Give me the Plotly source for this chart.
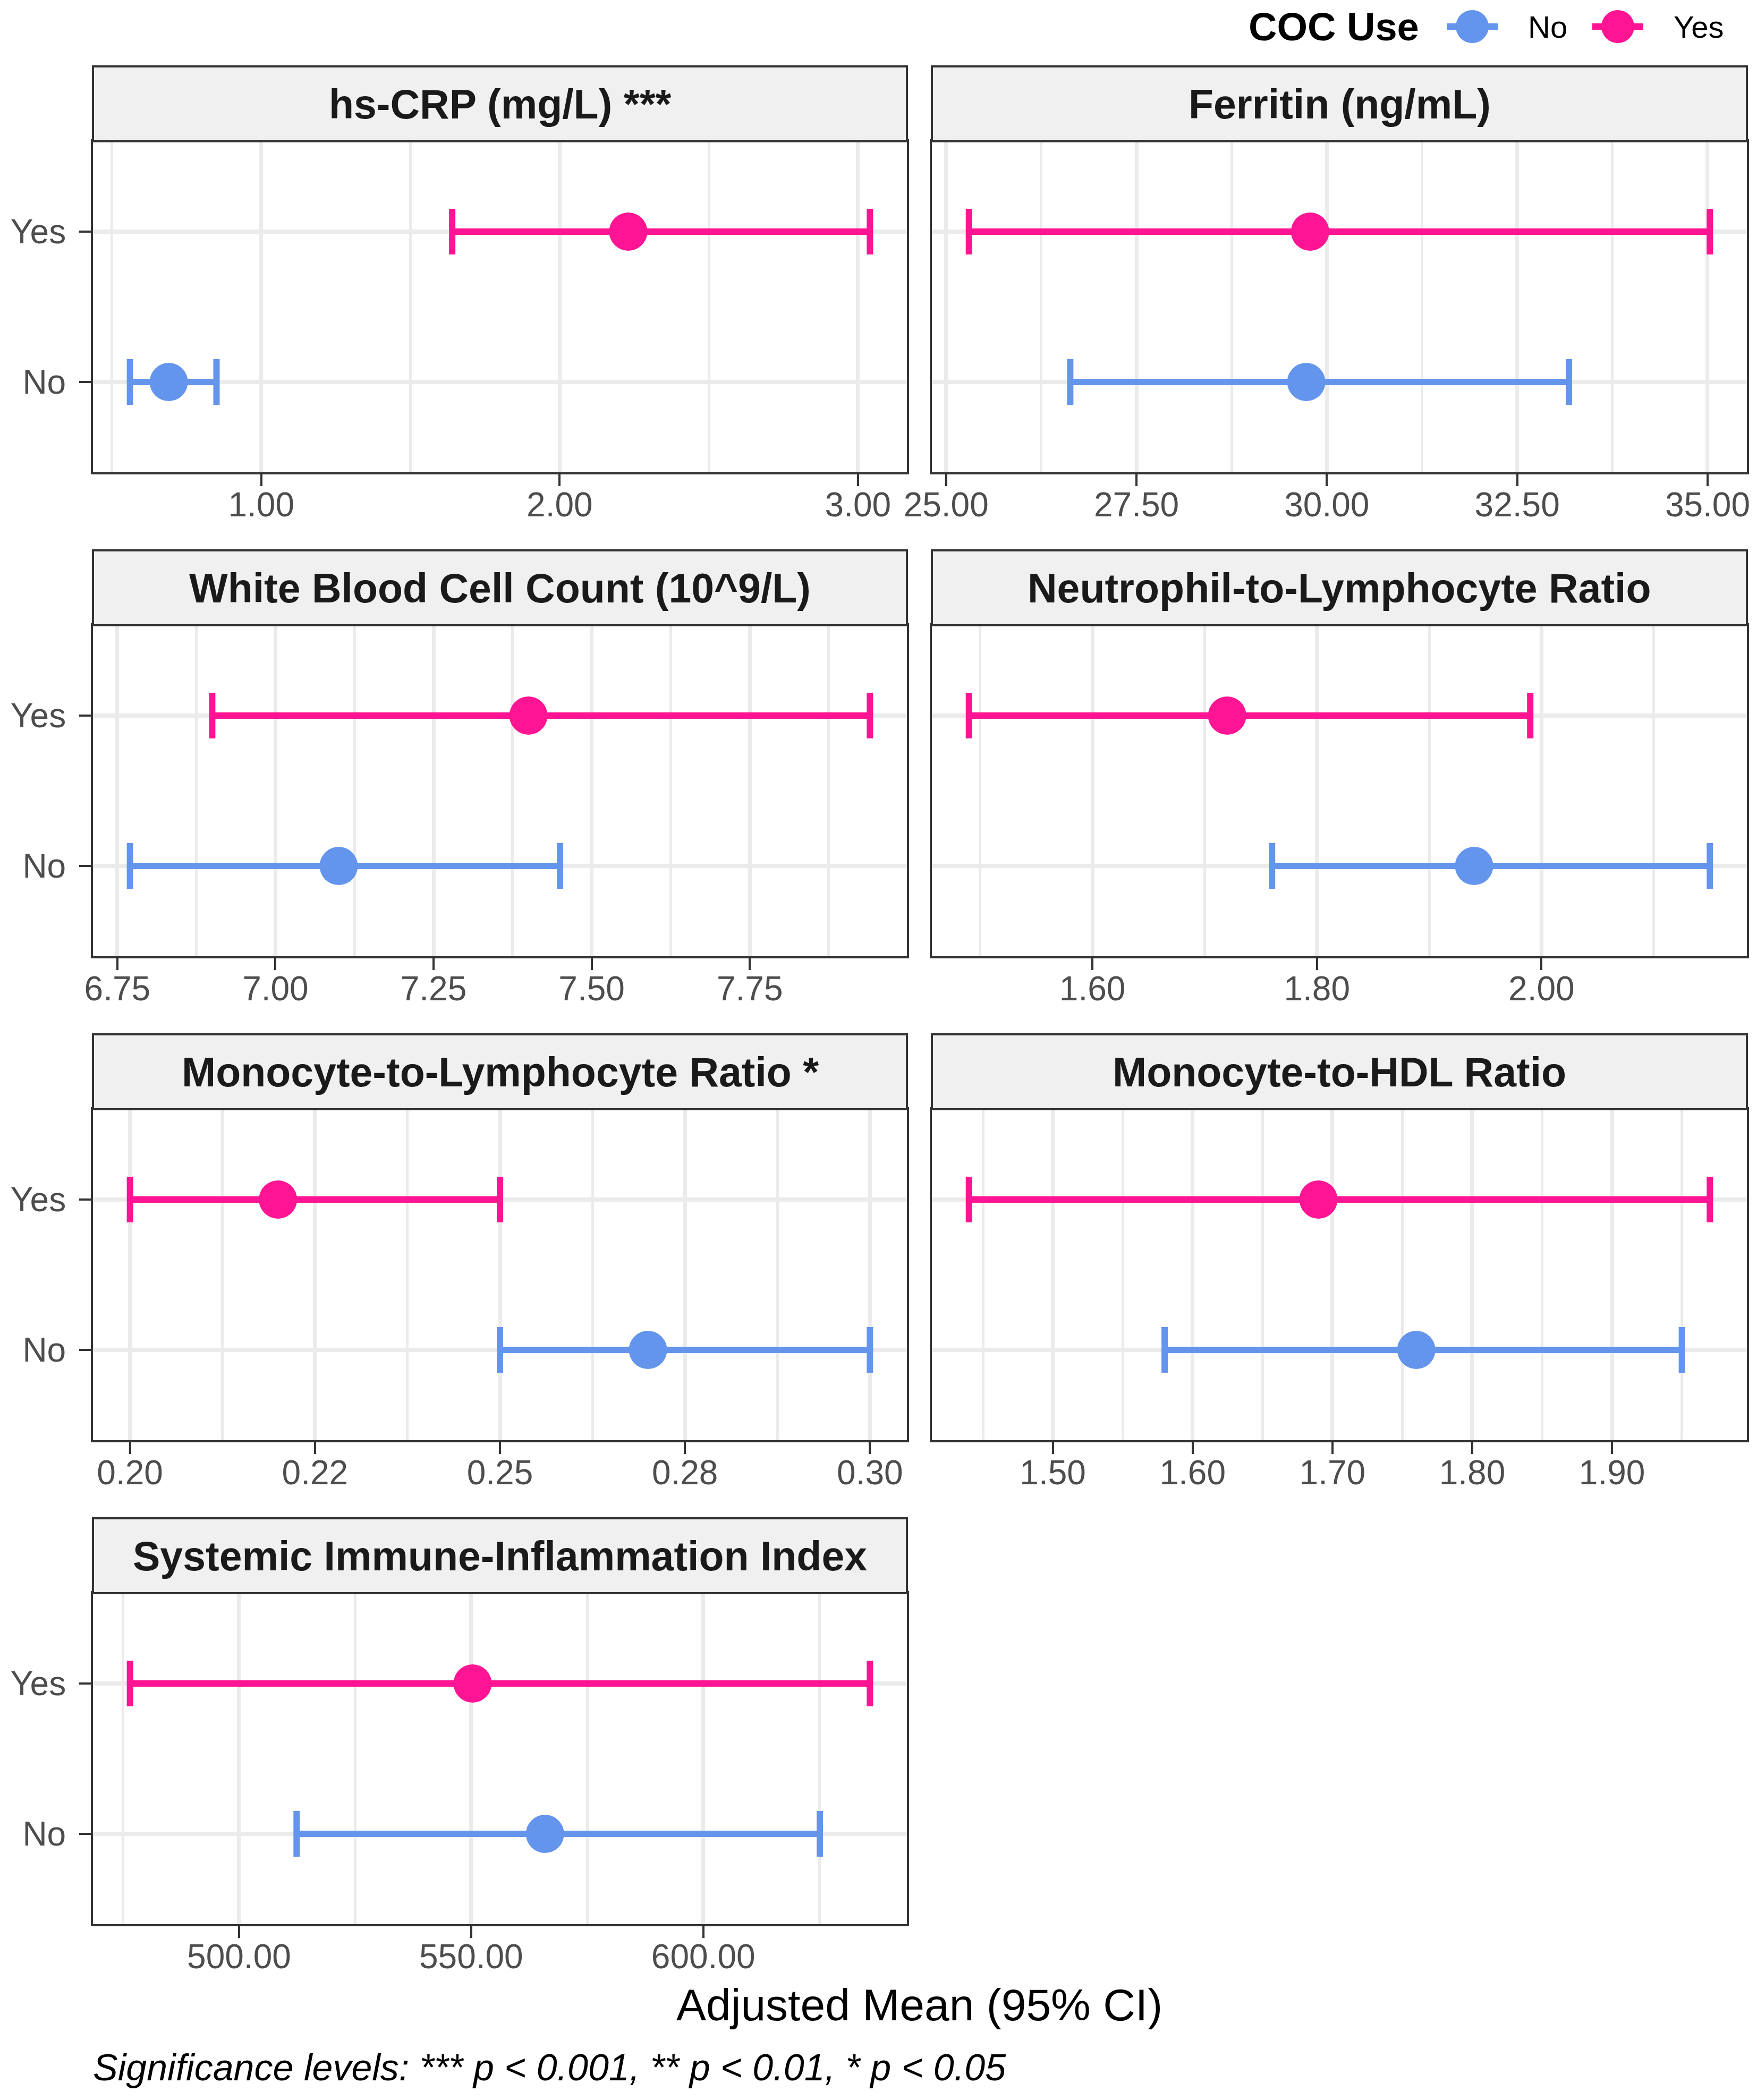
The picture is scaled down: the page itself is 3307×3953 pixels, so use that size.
import plotly.graph_objects as go
from plotly.subplots import make_subplots

# panel titles (facet strips), in reading order
markers = [
    "hs-CRP (mg/L) ***",
    "Ferritin (ng/mL)",
    "White Blood Cell Count (10^9/L)",
    "Neutrophil-to-Lymphocyte Ratio",
    "Monocyte-to-Lymphocyte Ratio *",
    "Monocyte-to-HDL Ratio",
    "Systemic Immune-Inflammation Index",
]

# adjusted means and 95% CI, COC use = No
no_mean = [0.69, 29.73, 7.10, 1.94, 0.270, 1.76, 565.9]
no_low = [0.56, 26.63, 6.77, 1.76, 0.250, 1.58, 512.4]
no_high = [0.85, 33.18, 7.45, 2.15, 0.300, 1.95, 625.1]

# adjusted means and 95% CI, COC use = Yes
yes_mean = [2.23, 29.78, 7.40, 1.72, 0.220, 1.69, 550.3]
yes_low = [1.64, 25.30, 6.90, 1.49, 0.200, 1.44, 476.5]
yes_high = [3.04, 35.03, 7.94, 1.99, 0.250, 1.97, 635.9]

# x axis breaks and their labels per panel
tick_vals = [
    [1.0, 2.0, 3.0],
    [25.0, 27.5, 30.0, 32.5, 35.0],
    [6.75, 7.0, 7.25, 7.5, 7.75],
    [1.6, 1.8, 2.0],
    [0.2, 0.225, 0.25, 0.275, 0.3],
    [1.5, 1.6, 1.7, 1.8, 1.9],
    [500.0, 550.0, 600.0],
]
tick_text = [
    ["1.00", "2.00", "3.00"],
    ["25.00", "27.50", "30.00", "32.50", "35.00"],
    ["6.75", "7.00", "7.25", "7.50", "7.75"],
    ["1.60", "1.80", "2.00"],
    ["0.20", "0.22", "0.25", "0.28", "0.30"],
    ["1.50", "1.60", "1.70", "1.80", "1.90"],
    ["500.00", "550.00", "600.00"],
]

groups = ["No", "Yes"]
group_colors = {"No": "#6495ED", "Yes": "#FF1493"}

# page geometry (pixels)
W, H = 3307, 3953
col_x = [(167, 1699), (1746, 3280)]
strip_top = [117, 1028, 1939, 2850]
strip_h = 141
panel_h = 623

FONT = "Liberation Sans, Arial, Helvetica, sans-serif"


def px_x(x):
    return x / W


def px_y(y):
    return 1 - y / H


fig = make_subplots(
    rows=4, cols=2,
    specs=[[{}, {}], [{}, {}], [{}, {}], [{}, None]],
)

shapes = []
annotations = []

for i, title in enumerate(markers):
    row, col = i // 2 + 1, i % 2 + 1
    x0, x1 = col_x[col - 1]
    st = strip_top[row - 1]
    p_top = st + strip_h
    p_bot = p_top + panel_h

    # data range with 5% expansion like ggplot
    lo = min(no_low[i], yes_low[i])
    hi = max(no_high[i], yes_high[i])
    pad = (hi - lo) * 0.05

    # minor breaks halfway between the major ones
    tv = tick_vals[i]
    step = tv[1] - tv[0]
    minor = [tv[0] - step / 2] + [t + step / 2 for t in tv]
    minor = [m for m in minor if lo - pad <= m <= hi + pad]

    for g, mean, low, high in [("No", no_mean, no_low, no_high),
                               ("Yes", yes_mean, yes_low, yes_high)]:
        fig.add_trace(go.Scatter(
            x=[mean[i]], y=[g],
            mode="markers",
            marker=dict(size=72, color=group_colors[g]),
            error_x=dict(type="data", symmetric=False,
                         array=[high[i] - mean[i]],
                         arrayminus=[mean[i] - low[i]],
                         color=group_colors[g], thickness=12, width=43),
            showlegend=False, name=g,
        ), row=row, col=col)

    fig.update_xaxes(
        domain=[px_x(x0), px_x(x1)],
        range=[lo - pad, hi + pad],
        tickvals=tv, ticktext=tick_text[i],
        ticks="outside", ticklen=22, tickwidth=4, tickcolor="#333333",
        ticklabelstandoff=-20,
        tickfont=dict(family=FONT, size=64, color="#4D4D4D"),
        showgrid=True, gridcolor="#EBEBEB", gridwidth=7,
        minor=dict(tickvals=minor, showgrid=True, gridcolor="#EBEBEB", gridwidth=5, ticks=""),
        zeroline=False, automargin=False,
        showline=True, mirror=True, linecolor="#333333", linewidth=4,
        row=row, col=col,
    )
    # only the left column carries the y axis labels
    left = col == 1
    fig.update_yaxes(
        domain=[px_y(p_bot), px_y(p_top)],
        type="category", categoryorder="array", categoryarray=groups,
        range=[-0.6, 1.6],
        ticks="outside" if left else "", ticklen=22, tickwidth=4, tickcolor="#333333",
        showticklabels=left, ticklabelstandoff=12,
        tickfont=dict(family=FONT, size=64, color="#4D4D4D"),
        showgrid=True, gridcolor="#EBEBEB", gridwidth=8,
        zeroline=False, automargin=False,
        showline=True, mirror=True, linecolor="#333333", linewidth=4,
        row=row, col=col,
    )

    # facet strip
    shapes.append(dict(type="rect", xref="paper", yref="paper",
                       x0=px_x(x0), x1=px_x(x1), y0=px_y(st + strip_h), y1=px_y(st),
                       fillcolor="#F0F0F0", line=dict(color="#333333", width=4), layer="above"))
    annotations.append(dict(xref="paper", yref="paper", x=px_x((x0 + x1) / 2), y=px_y(st + strip_h / 2),
                            text="<b>" + title + "</b>", showarrow=False,
                            xanchor="center", yanchor="middle",
                            font=dict(family=FONT, size=77, color="#1A1A1A")))

# axis title and caption
annotations.append(dict(xref="paper", yref="paper", x=px_x(1722), y=px_y(3766),
                        text="Adjusted Mean (95% CI)", showarrow=False,
                        xanchor="center", yanchor="middle",
                        font=dict(family=FONT, size=84, color="black")))
annotations.append(dict(xref="paper", yref="paper", x=px_x(165), y=px_y(3884),
                        text="<i>Significance levels: *** p &lt; 0.001, ** p &lt; 0.01, * p &lt; 0.05</i>",
                        showarrow=False, xanchor="left", yanchor="middle",
                        font=dict(family=FONT, size=70, color="black")))

# legend drawn by hand so the keys keep the plot's marker size
leg_y = 42
annotations.append(dict(xref="paper", yref="paper", x=px_x(2665), y=px_y(leg_y),
                        text="<b>COC Use</b>", showarrow=False,
                        xanchor="right", yanchor="middle",
                        font=dict(family=FONT, size=74, color="black")))
key_x = {"No": 2763, "Yes": 3037}
for g in groups:
    cx = key_x[g]
    shapes.append(dict(type="line", xref="paper", yref="paper",
                       x0=px_x(cx - 48), x1=px_x(cx + 48), y0=px_y(leg_y), y1=px_y(leg_y),
                       line=dict(color=group_colors[g], width=12)))
    shapes.append(dict(type="circle", xref="paper", yref="paper",
                       x0=px_x(cx - 31), x1=px_x(cx + 31), y0=px_y(leg_y + 31), y1=px_y(leg_y - 31),
                       fillcolor=group_colors[g], line=dict(width=0)))
    annotations.append(dict(xref="paper", yref="paper", x=px_x(cx + 103), y=px_y(leg_y),
                            text=g, showarrow=False, xanchor="left", yanchor="middle",
                            font=dict(family=FONT, size=58, color="black")))

fig.update_layout(
    width=W, height=H,
    margin=dict(l=0, r=0, t=0, b=0),
    paper_bgcolor="white", plot_bgcolor="white",
    shapes=shapes, annotations=annotations,
    showlegend=False,
)

fig.write_html("out.html")
